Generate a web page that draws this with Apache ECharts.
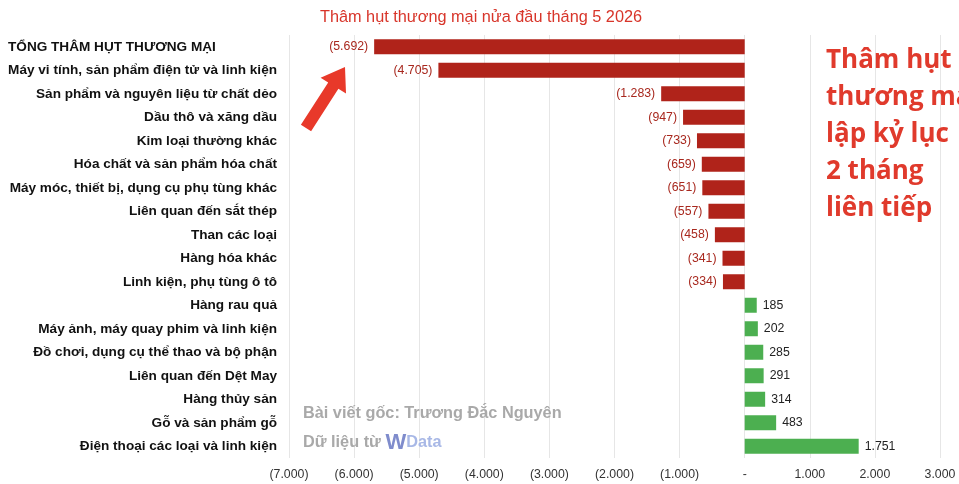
<!DOCTYPE html>
<html>
<head>
<meta charset="utf-8">
<script src="https://cdn.jsdelivr.net/npm/echarts@6/dist/echarts.min.js"></script>
<style>
html,body{margin:0;padding:0;background:#fff;}
#chart{width:959px;height:484px;}
</style>
</head>
<body>
<div id="chart"></div>
<script>
const categories = [
  "TỔNG THÂM HỤT THƯƠNG MẠI",
  "Máy vi tính, sản phẩm điện tử và linh kiện",
  "Sản phẩm và nguyên liệu từ chất dẻo",
  "Dầu thô và xăng dầu",
  "Kim loại thường khác",
  "Hóa chất và sản phẩm hóa chất",
  "Máy móc, thiết bị, dụng cụ phụ tùng khác",
  "Liên quan đến sắt thép",
  "Than các loại",
  "Hàng hóa khác",
  "Linh kiện, phụ tùng ô tô",
  "Hàng rau quả",
  "Máy ảnh, máy quay phim và linh kiện",
  "Đồ chơi, dụng cụ thể thao và bộ phận",
  "Liên quan đến Dệt May",
  "Hàng thủy sản",
  "Gỗ và sản phẩm gỗ",
  "Điện thoại các loại và linh kiện"
];
const values = [-5692, -4705, -1283, -947, -733, -659, -651, -557, -458, -341, -334, 185, 202, 285, 291, 314, 483, 1751];
const axisMin = -7000, axisMax = 3000, axisStep = 1000;
const titleText = "Thâm hụt thương mại nửa đầu tháng 5 2026";
const noteText = "Thâm hụt\nthương mại\nlập kỷ lục\n2 tháng\nliên tiếp";

function fmt(v) {
  if (v === 0) return "-";
  const s = Math.abs(v).toString().replace(/\B(?=(\d{3})+(?!\d))/g, ".");
  return v < 0 ? "(" + s + ")" : s;
}

const FF = 'Liberation Sans, Arial, sans-serif';
const chart = echarts.init(document.getElementById('chart'));
chart.setOption({
  backgroundColor: '#fff',
  animation: false,
  title: {
    text: titleText,
    left: 476, top: 5, textAlign: 'center',
    textStyle: { color: '#d8352a', fontSize: 16.3, fontWeight: 'normal', fontFamily: FF }
  },
  grid: { left: 289, right: 19, top: 35, bottom: 26, containLabel: false },
  xAxis: {
    type: 'value', min: axisMin, max: axisMax, interval: axisStep,
    axisLine: { show: false }, axisTick: { show: false },
    splitLine: { show: true, lineStyle: { color: '#e6e6e6', width: 1 } },
    axisLabel: { formatter: fmt, color: '#333', fontSize: 12.3, margin: 11, fontFamily: FF }
  },
  yAxis: {
    type: 'category', data: categories, inverse: true,
    axisLine: { show: false }, axisTick: { show: false },
    axisLabel: {
      color: '#111', fontSize: 13.6, fontWeight: 'bold', margin: 12, fontFamily: FF,
      formatter: (v, i) => i === 0 ? '{t|' + v + '}' : v,
      rich: { t: { width: 269, align: 'left', color: '#111', fontSize: 13.6, fontWeight: 'bold', fontFamily: FF } }
    }
  },
  series: [{
    type: 'bar',
    barWidth: 15,
    data: values.map(v => ({
      value: v,
      itemStyle: { color: v < 0 ? '#b0231a' : '#4caf50' },
      label: {
        show: true,
        position: v < 0 ? 'left' : 'right',
        distance: 6,
        color: v < 0 ? '#a8281e' : '#222',
        fontSize: 12.3,
        fontFamily: FF,
        formatter: p => fmt(p.value)
      }
    }))
  }],
  graphic: [
    {
      type: 'text', left: 826, top: 42, z: 10,
      style: {
        text: noteText, fill: '#e03a2c', fontSize: 26, fontWeight: 'bold',
        fontFamily: 'Open Sans, DejaVu Sans, sans-serif', lineHeight: 37
      }
    },
    {
      type: 'polygon', z: 10,
      shape: { points: [[345,67],[346.0,93.6],[338.4,88.8],[311.1,131.2],[300.9,124.8],[328.2,82.4],[320.6,77.7]] },
      style: { fill: '#e8392a' }
    },
    {
      type: 'text', left: 303, top: 406, z: 10,
      style: { text: 'Bài viết gốc: Trương Đắc Nguyên', fill: '#a9a9a9', fontSize: 16.3, fontWeight: 'bold', fontFamily: FF }
    },
    {
      type: 'text', left: 303, top: 432, z: 10,
      style: {
        text: '{a|Dữ liệu từ }{w|W}{d|Data}',
        rich: {
          a: { fill: '#a9a9a9', fontSize: 16.3, fontWeight: 'bold', fontFamily: FF },
          w: { fill: '#7f8ccc', fontSize: 22, fontWeight: 'bold', fontFamily: FF },
          d: { fill: '#a8b8e6', fontSize: 16.3, fontWeight: 'bold', fontFamily: FF }
        }
      }
    }
  ]
});
</script>
</body>
</html>
